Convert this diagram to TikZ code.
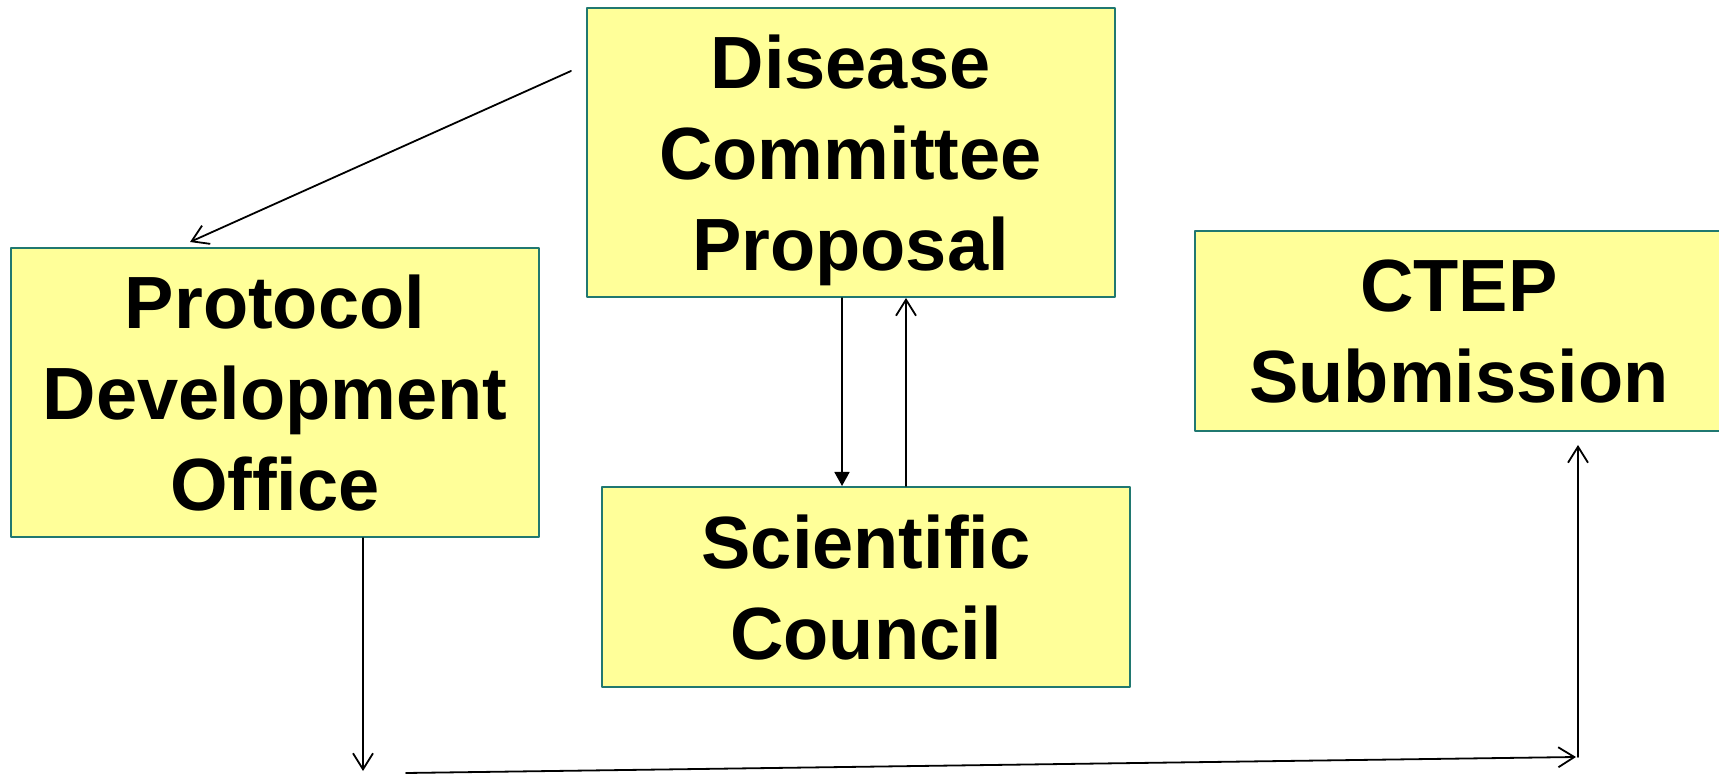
\documentclass[tikz,border=0pt]{standalone}
\usepackage{fontspec}
\setmainfont{Liberation Sans}
\usetikzlibrary{arrows.meta}
\definecolor{boxfill}{RGB}{255,255,153}
\definecolor{boxedge}{RGB}{32,120,112}

\begin{document}
\begin{tikzpicture}[x=1pt,y=1pt,line cap=round,line join=round,
  stagebox/.style={draw=boxedge,fill=boxfill,line width=2pt,align=center,inner sep=0pt,
    minimum width=528pt,text depth=0pt,font=\fontsize{74}{91}\selectfont\bfseries},
  flow/.style={-{Straight Barb[length=16pt,width=20pt]},line width=1.8pt},
  flowfill/.style={-{Triangle[length=14pt,width=15pt]},line width=1.8pt}]
\useasboundingbox (0,0) rectangle (1719,774);
\node[stagebox,minimum height=289pt] (dis) at (850.5,621.5) {Disease\\Committee\\Proposal};
\node[stagebox,minimum height=289pt] (pdo) at (275,381.5) {Protocol\\Development\\Office};
\node[stagebox,minimum height=200pt] (sci) at (866,187) {Scientific\\Council};
\node[stagebox,minimum height=200pt] (ctep) at (1459,443) {CTEP\\Submission};
\coordinate (dstart) at (571,703);
\coordinate (pend) at (363,3);
\coordinate (hstart) at (406,1);
\coordinate (hend) at (1576,17);
\coordinate (cbase) at (1578,17);
\draw[flow] (dstart) -- ([xshift=-85pt,yshift=5pt]pdo.north);
\draw[flowfill] ([xshift=-24pt]sci.north |- dis.south) -- ([xshift=-24pt]sci.north);
\draw[flow] ([xshift=40pt]sci.north) -- ([xshift=40pt]sci.north |- dis.south);
\draw[flow] ([xshift=88pt]pdo.south) -- (pend);
\draw[flow] (hstart) -- (hend);
\draw[flow] (cbase) -- ([yshift=-13pt]cbase |- ctep.south);
\end{tikzpicture}
\end{document}
